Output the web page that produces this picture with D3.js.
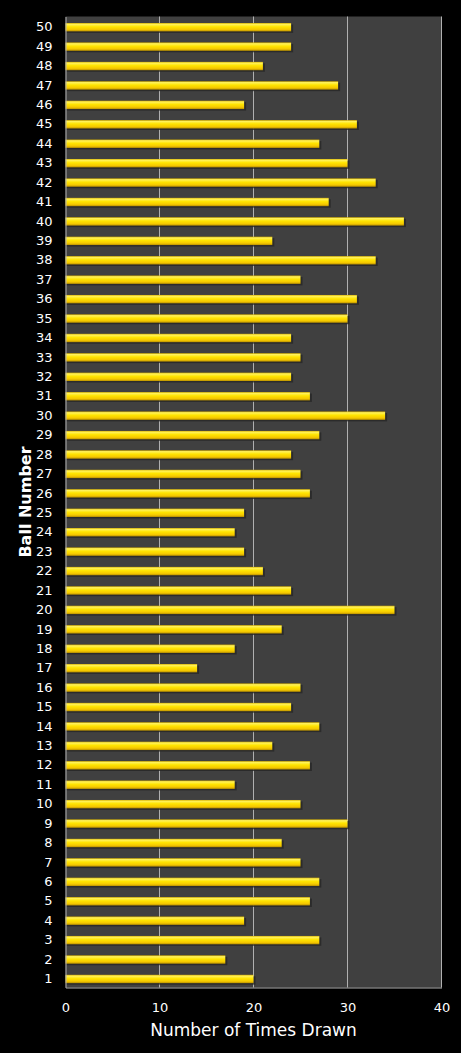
<!DOCTYPE html>
<html>
<head>
<meta charset="utf-8">
<script src="https://cdn.jsdelivr.net/npm/d3@7"></script>
<style>
  html, body { margin: 0; padding: 0; background: #000; }
  svg { display: block; }
</style>
</head>
<body>
<script>
'use strict';

var width = 461,
    height = 1053;

// ball numbers 1..50 and how often each was drawn
var balls = [1, 2, 3, 4, 5, 6, 7, 8, 9, 10,
             11, 12, 13, 14, 15, 16, 17, 18, 19, 20,
             21, 22, 23, 24, 25, 26, 27, 28, 29, 30,
             31, 32, 33, 34, 35, 36, 37, 38, 39, 40,
             41, 42, 43, 44, 45, 46, 47, 48, 49, 50];
var timesDrawn = [20, 17, 27, 19, 26, 27, 25, 23, 30, 25,
                  18, 26, 22, 27, 24, 25, 14, 18, 23, 35,
                  24, 21, 19, 18, 19, 26, 25, 24, 27, 34,
                  26, 24, 25, 24, 30, 31, 25, 33, 22, 36,
                  28, 33, 30, 27, 31, 19, 29, 21, 24, 24];
var xTicks = [0, 10, 20, 30, 40];

var margin = {top: 16.5, right: 19.5, bottom: 65.5, left: 65.5};
var innerW = width - margin.left - margin.right,
    innerH = height - margin.top - margin.bottom;

var svg = d3.select('body').append('svg')
    .attr('width', width)
    .attr('height', height);

svg.append('rect')
    .attr('width', width)
    .attr('height', height)
    .attr('fill', '#000');

var defs = svg.append('defs');
var grad = defs.append('linearGradient')
    .attr('id', 'barFill')
    .attr('x1', 0).attr('y1', 0).attr('x2', 0).attr('y2', 1);
grad.append('stop').attr('offset', '0%').attr('stop-color', '#d6b000');
grad.append('stop').attr('offset', '15%').attr('stop-color', '#fff25c');
grad.append('stop').attr('offset', '45%').attr('stop-color', '#ffe400');
grad.append('stop').attr('offset', '78%').attr('stop-color', '#f5c800');
grad.append('stop').attr('offset', '100%').attr('stop-color', '#b89000');

var g = svg.append('g')
    .attr('transform', 'translate(' + margin.left + ',' + margin.top + ')');

var x = d3.scaleLinear()
    .domain([0, 40])
    .range([0, innerW]);

var y = d3.scaleBand()
    .domain(balls.slice().reverse())
    .range([0, innerH])
    .paddingInner(0.57)
    .paddingOuter(0.28)
    .align(0.6);

// plot area
g.append('rect')
    .attr('width', innerW)
    .attr('height', innerH)
    .attr('fill', '#404040');

// gridlines
g.selectAll('line.grid')
    .data(xTicks.slice(1))
    .enter().append('line')
    .attr('class', 'grid')
    .attr('x1', function(d) { return x(d); })
    .attr('x2', function(d) { return x(d); })
    .attr('y1', 0)
    .attr('y2', innerH)
    .attr('stroke', '#b0b0b0')
    .attr('stroke-width', 1);

var rows = balls.map(function(b, i) { return {ball: b, value: timesDrawn[i]}; });

// bar shadows
g.selectAll('rect.shadow')
    .data(rows)
    .enter().append('rect')
    .attr('class', 'shadow')
    .attr('x', 1)
    .attr('y', function(d) { return y(d.ball) + 1.5; })
    .attr('width', function(d) { return x(d.value) + 1; })
    .attr('height', y.bandwidth())
    .attr('fill', '#262626')
    .attr('opacity', 0.8);

// bars
g.selectAll('rect.bar')
    .data(rows)
    .enter().append('rect')
    .attr('class', 'bar')
    .attr('x', 0)
    .attr('y', function(d) { return y(d.ball); })
    .attr('width', function(d) { return x(d.value); })
    .attr('height', y.bandwidth())
    .attr('fill', 'url(#barFill)');

// axes
var xAxis = g.append('g')
    .attr('transform', 'translate(0,' + innerH + ')')
    .call(d3.axisBottom(x).tickValues(xTicks).tickSize(0).tickPadding(15));

var yAxis = g.append('g')
    .call(d3.axisLeft(y).tickSize(0).tickPadding(13));

[xAxis, yAxis].forEach(function(a) {
  a.select('.domain').attr('stroke', '#b0b0b0');
  a.selectAll('text')
    .attr('fill', '#fff')
    .style('font-family', 'DejaVu Sans, Verdana, sans-serif')
    .style('font-size', '13px');
});

// axis titles
svg.append('text')
    .attr('x', margin.left + innerW / 2)
    .attr('y', 1036)
    .attr('text-anchor', 'middle')
    .attr('fill', '#fff')
    .style('font-family', 'DejaVu Sans, Verdana, sans-serif')
    .style('font-size', '17px')
    .text('Number of Times Drawn');

svg.append('text')
    .attr('transform', 'translate(31,' + (margin.top + innerH / 2) + ') rotate(-90)')
    .attr('text-anchor', 'middle')
    .attr('fill', '#fff')
    .style('font-family', 'DejaVu Sans, Verdana, sans-serif')
    .style('font-size', '16px')
    .style('font-weight', '600')
    .text('Ball Number');
</script>
</body>
</html>
